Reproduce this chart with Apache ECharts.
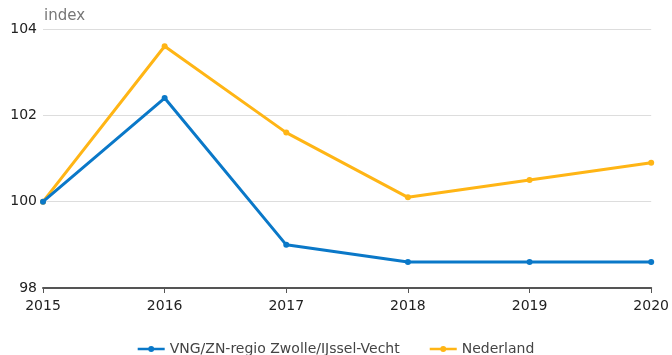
<!DOCTYPE html>
<html>
<head>
<meta charset="utf-8">
<script src="https://cdn.jsdelivr.net/npm/echarts@6/dist/echarts.min.js"></script>
<style>
  html, body { margin: 0; padding: 0; background: #fff; }
  #chart { width: 672px; height: 355px; }
</style>
</head>
<body>
<div id="chart"></div>
<script>
// Index (2015 = 100)
const years = ['2015', '2016', '2017', '2018', '2019', '2020'];
const regionName = 'VNG/ZN-regio Zwolle/IJssel-Vecht';
const regionValues = [100, 102.4, 99.0, 98.6, 98.6, 98.6];
const nlName = 'Nederland';
const nlValues = [100, 103.6, 101.6, 100.1, 100.5, 100.9];

const font = 'DejaVu Sans, Verdana, sans-serif';
// legend icon: a thick line with a small dot in the middle
const lineDotIcon = 'path://M0,2.8H27V5.2H0Z M13.5,1A3,3 0 1 1 13.5,7A3,3 0 1 1 13.5,1Z';
const chart = echarts.init(document.getElementById('chart'));

chart.setOption({
  animation: false,
  textStyle: { fontFamily: font },
  title: {
    text: 'index',
    left: 39,
    top: 4,
    textStyle: { fontFamily: font, fontSize: 15, fontWeight: 'normal', color: '#777' }
  },
  grid: { left: 43, right: 20, top: 29, bottom: 67 },
  legend: {
    bottom: -6,
    left: 'center',
    itemGap: 30,
    itemWidth: 27,
    itemHeight: 6,
    icon: lineDotIcon,
    textStyle: { fontFamily: font, fontSize: 14, color: '#444' },
    data: [regionName, nlName]
  },
  xAxis: {
    type: 'category',
    data: years,
    boundaryGap: false,
    axisLine: { lineStyle: { color: '#555', width: 2 } },
    axisTick: { alignWithLabel: true, length: 5, lineStyle: { color: '#555' } },
    axisLabel: { fontFamily: font, fontSize: 14, color: '#222', margin: 11 }
  },
  yAxis: {
    type: 'value',
    min: 98,
    max: 104,
    interval: 2,
    axisLine: { show: false },
    axisTick: { show: false },
    axisLabel: { fontFamily: font, fontSize: 14, color: '#222', margin: 6, verticalAlign: 'middle', padding: [0, 0, 7, 0] },
    splitLine: { lineStyle: { color: '#ddd' } }
  },
  series: [
    {
      name: regionName,
      type: 'line',
      data: regionValues,
      color: '#0a78c8',
      symbol: 'circle',
      symbolSize: 6,
      lineStyle: { width: 3 }
    },
    {
      name: nlName,
      type: 'line',
      data: nlValues,
      color: '#ffb515',
      symbol: 'circle',
      symbolSize: 6,
      lineStyle: { width: 3 },
      z: 1
    }
  ]
});
</script>
</body>
</html>
